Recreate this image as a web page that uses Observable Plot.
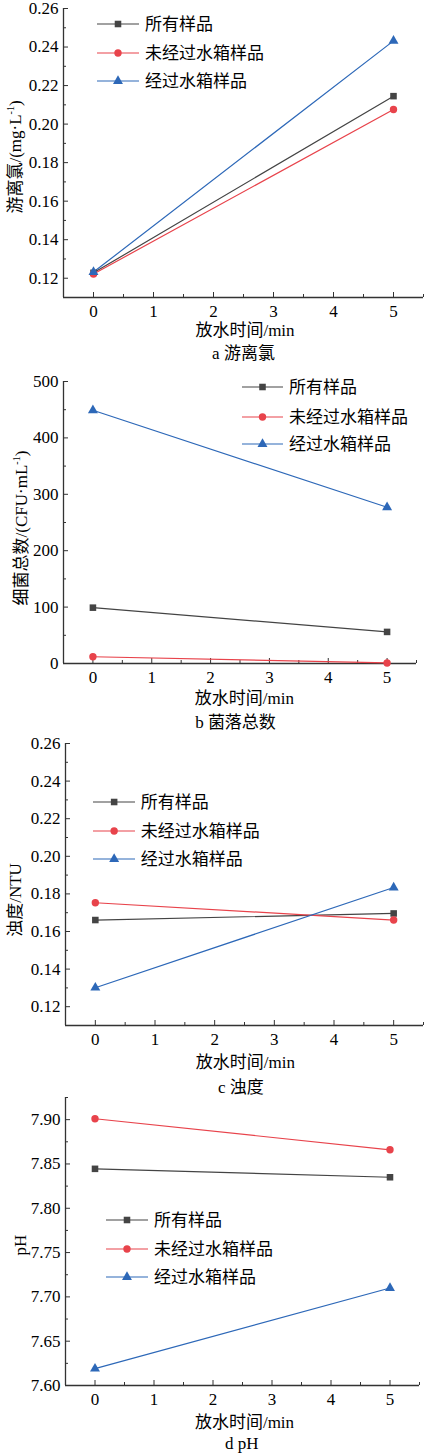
<!DOCTYPE html>
<html><head><meta charset="utf-8">
<script src="https://cdn.jsdelivr.net/npm/d3@7"></script>
<script src="https://cdn.jsdelivr.net/npm/@observablehq/plot@0.6"></script>
<style>
body{margin:0;background:#fff;}
#fig{position:relative;width:424px;height:1454px;overflow:hidden;font-family:"Liberation Serif","Noto Sans CJK SC",serif;color:#000;}
.panel{position:absolute;left:0;}
.txt{position:absolute;font-size:17px;line-height:1;white-space:nowrap;transform:translate(-50%,-50%);}
.ylab{position:absolute;font-size:17px;line-height:1;white-space:nowrap;transform:translate(-50%,-50%) rotate(-90deg);}
.ylab sup{font-size:10px;vertical-align:7px;line-height:0;}
.leg{position:absolute;font-size:17px;line-height:1;white-space:nowrap;transform:translateY(-50%);}
.legsw{position:absolute;transform:translateY(-50%);}
</style></head>
<body><div id="fig"></div>
<script>
// ---- shared ----
const times = [0, 5];
const seriesNames = ["所有样品", "未经过水箱样品", "经过水箱样品"];
const seriesColors = ["#444444", "#e8434b", "#2d68b8"];
const seriesSymbols = ["square", "circle", "triangle"];
const xTicks = [0, 1, 2, 3, 4, 5];
const xMinorTicks = [0.5, 1.5, 2.5, 3.5, 4.5, 5.5];
const xDomain = [-0.5, 5.5];
const xLabel = "放水时间/min";

// ---- a 游离氯 ----
const chlorineAll = [0.1228, 0.2145];
const chlorineUntank = [0.1222, 0.2076];
const chlorineTank = [0.1232, 0.2432];
const chlorineTicks = [0.12, 0.14, 0.16, 0.18, 0.20, 0.22, 0.24, 0.26];
const chlorineMinor = [0.13, 0.15, 0.17, 0.19, 0.21, 0.23, 0.25];
const chlorineDomain = [0.11, 0.26];

// ---- b 菌落总数 ----
const bacteriaAll = [99, 56];
const bacteriaUntank = [12, 1];
const bacteriaTank = [449, 277];
const bacteriaTicks = [0, 100, 200, 300, 400, 500];
const bacteriaMinor = [50, 150, 250, 350, 450];
const bacteriaDomain = [0, 500];

// ---- c 浊度 ----
const turbidityAll = [0.1661, 0.1696];
const turbidityUntank = [0.1753, 0.1661];
const turbidityTank = [0.1301, 0.1834];
const turbidityTicks = [0.12, 0.14, 0.16, 0.18, 0.20, 0.22, 0.24, 0.26];
const turbidityMinor = [0.13, 0.15, 0.17, 0.19, 0.21, 0.23, 0.25];
const turbidityDomain = [0.11, 0.26];

// ---- d pH ----
const phAll = [7.8445, 7.835];
const phUntank = [7.901, 7.866];
const phTank = [7.619, 7.710];
const phTicks = [7.60, 7.65, 7.70, 7.75, 7.80, 7.85, 7.90];
const phMinor = [7.625, 7.675, 7.725, 7.775, 7.825, 7.875, 7.925];
const phDomain = [7.60, 7.925];

const fig = document.getElementById("fig");
const axisColor = "#333";
const fontFam = '"Liberation Serif","Noto Sans CJK SC",serif';

function addText(cls, html, x, y) {
  const d = document.createElement("div");
  d.className = cls;
  d.innerHTML = html;
  d.style.left = x + "px";
  d.style.top = y + "px";
  fig.appendChild(d);
  return d;
}

function addLegend(x1, x2, tx, rows) {
  seriesNames.forEach((name, i) => {
    const w = x2 - x1;
    const sw = d3.create("svg").attr("width", w).attr("height", 14).attr("class", "legsw")
      .style("left", x1 + "px").style("top", rows[i] + "px");
    sw.append("line").attr("x1", 0).attr("x2", w).attr("y1", 7).attr("y2", 7)
      .attr("stroke", seriesColors[i]).attr("stroke-width", 1.2);
    const type = [d3.symbolSquare, d3.symbolCircle, d3.symbolTriangle][i];
    sw.append("path").attr("d", d3.symbol().type(type).size(Math.PI * 3.7 * 3.7)())
      .attr("transform", `translate(${w / 2},7)`).attr("fill", seriesColors[i]);
    fig.appendChild(sw.node());
    const t = document.createElement("div");
    t.className = "leg";
    t.textContent = name;
    t.style.left = tx + "px";
    t.style.top = rows[i] + "px";
    fig.appendChild(t);
  });
}

function panel(cfg) {
  const data = [];
  cfg.series.forEach((vals, si) => times.forEach((t, ti) => data.push({t, v: vals[ti], s: seriesNames[si]})));
  const blank = () => "";
  const p = Plot.plot({
    width: 424, height: cfg.height,
    marginLeft: cfg.ml, marginRight: cfg.mr, marginTop: cfg.mt, marginBottom: cfg.mb,
    style: {fontFamily: fontFam, fontSize: "17px", color: "#000", background: "transparent", overflow: "visible"},
    x: {domain: xDomain},
    y: {domain: cfg.yDomain},
    color: {domain: seriesNames, range: seriesColors},
    symbol: {domain: seriesNames, range: seriesSymbols},
    marks: [
      Plot.ruleX([xDomain[0]], {stroke: axisColor, strokeWidth: 1.3}),
      Plot.ruleY([cfg.yDomain[0]], {stroke: axisColor, strokeWidth: 1.3}),
      Plot.axisX(xTicks, {tickSize: -5, tickFormat: blank, label: null, stroke: axisColor}),
      Plot.axisX(xMinorTicks, {tickSize: -3, tickFormat: blank, label: null, stroke: axisColor}),
      Plot.axisX(xTicks, {tickSize: 0, tickPadding: 7, label: null, fill: "#000", fontSize: 17}),
      Plot.axisY(cfg.yTicks, {tickSize: -5, tickFormat: blank, label: null, stroke: axisColor}),
      Plot.axisY(cfg.yMinor, {tickSize: -3, tickFormat: blank, label: null, stroke: axisColor}),
      Plot.axisY(cfg.yTicks, {tickSize: 0, tickPadding: 5, tickFormat: cfg.fmt, label: null, fill: "#000", fontSize: 17}),
      Plot.line(data, {x: "t", y: "v", z: "s", stroke: "s", strokeWidth: 1.2}),
      Plot.dot(data, {x: "t", y: "v", symbol: "s", fill: "s", r: 3.7})
    ]
  });
  p.classList.add("panel");
  p.style.top = cfg.top + "px";
  p.style.position = "absolute";
  fig.appendChild(p);
  addText("ylab", cfg.ylabel, cfg.ylx, cfg.yly);
  addText("txt", xLabel, cfg.xlx, cfg.xly);
  addText("txt", cfg.caption, cfg.cx, cfg.cy);
  addLegend(cfg.leg[0], cfg.leg[1], cfg.leg[2], cfg.legRows);
}

panel({
  series: [chlorineAll, chlorineUntank, chlorineTank],
  yDomain: chlorineDomain, yTicks: chlorineTicks, yMinor: chlorineMinor, fmt: d3.format(".2f"),
  top: 0, height: 327, ml: 63, mr: 1, mt: 8, mb: 30,
  ylabel: "游离氯/(mg·L<sup>-1</sup>)", ylx: 15, yly: 157,
  xlx: 245, xly: 330, caption: "a 游离氯", cx: 243.5, cy: 353,
  leg: [97, 139, 145], legRows: [24.3, 53.3, 81]
});
panel({
  series: [bacteriaAll, bacteriaUntank, bacteriaTank],
  yDomain: bacteriaDomain, yTicks: bacteriaTicks, yMinor: bacteriaMinor, fmt: d3.format("d"),
  top: 370, height: 323, ml: 63, mr: 8, mt: 11, mb: 30,
  ylabel: "细菌总数/(CFU·mL<sup>-1</sup>)", ylx: 20.7, yly: 528,
  xlx: 244.3, xly: 698, caption: "b 菌落总数", cx: 235.5, cy: 721.7,
  leg: [242, 283, 289], legRows: [387, 416.7, 444.3]
});
panel({
  series: [turbidityAll, turbidityUntank, turbidityTank],
  yDomain: turbidityDomain, yTicks: turbidityTicks, yMinor: turbidityMinor, fmt: d3.format(".2f"),
  top: 732, height: 323, ml: 65, mr: 1, mt: 11, mb: 30,
  ylabel: "浊度/NTU", ylx: 15, yly: 900,
  xlx: 245.3, xly: 1062.3, caption: "c 浊度", cx: 240.8, cy: 1086.7,
  leg: [92.7, 135, 140.7], legRows: [802.3, 831, 859.3]
});
panel({
  series: [phAll, phUntank, phTank],
  yDomain: phDomain, yTicks: phTicks, yMinor: phMinor, fmt: d3.format(".2f"),
  top: 1090, height: 325, ml: 65, mr: 5, mt: 7, mb: 30,
  ylabel: "pH", ylx: 20, yly: 1245,
  xlx: 244.5, xly: 1421.7, caption: "d pH", cx: 241.7, cy: 1442.7,
  leg: [106, 148, 154], legRows: [1220, 1249.3, 1276.7]
});
</script></body></html>
